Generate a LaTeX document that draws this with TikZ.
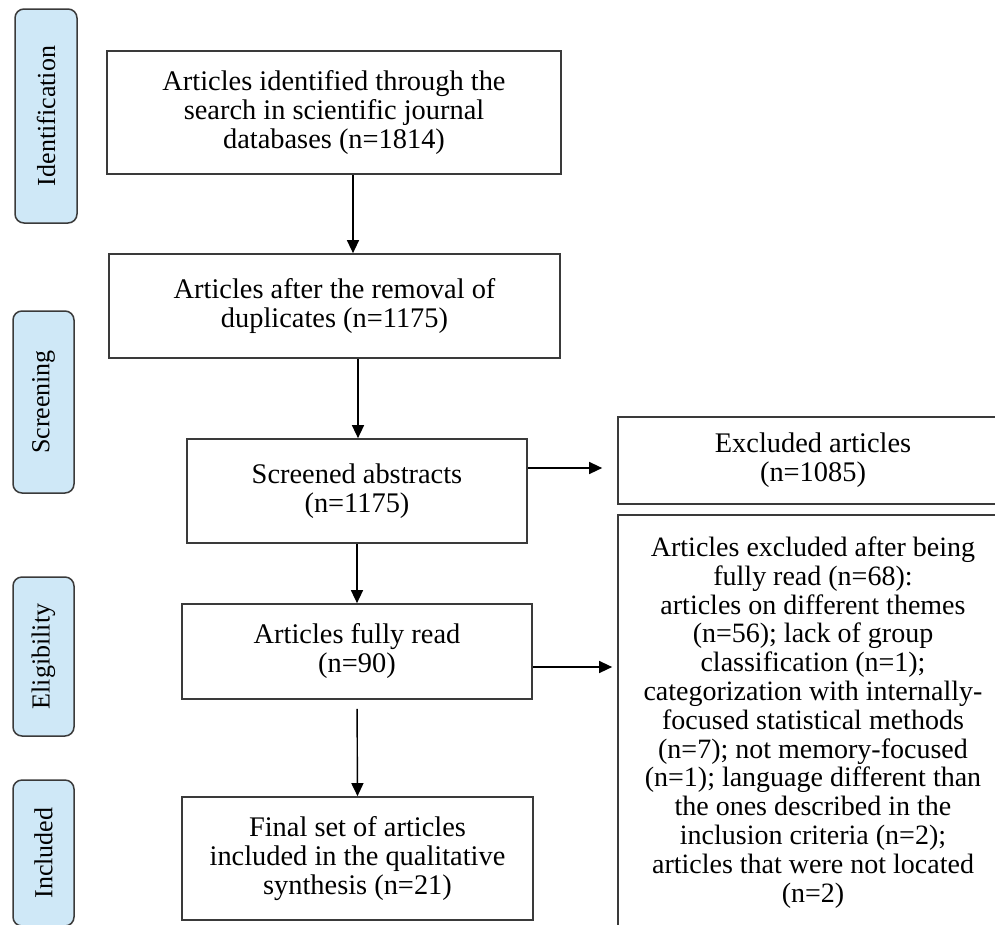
\documentclass[tikz,border=0pt]{standalone}
\usepackage{fontspec}
\setmainfont{Liberation Serif}
\usetikzlibrary{arrows.meta,calc}
\definecolor{sidefill}{HTML}{CFE8F7}
\definecolor{linegray}{HTML}{3A3A3A}
\tikzset{
  box/.style={draw=linegray, line width=1.7pt, rectangle, inner sep=0pt, align=center,
    font=\fontsize{28.4}{29}\selectfont, text=black},
  side/.style={draw=linegray, line width=1.5pt, fill=sidefill, rounded corners=9pt,
    inner sep=0pt, font=\fontsize{26}{27}\selectfont, rotate=90},
  arr/.style={draw=black, line width=1.4pt, -{Triangle[length=13pt,width=12pt]}},
}
\begin{document}
\begin{tikzpicture}[x=1pt,y=-1pt]
\useasboundingbox (0,0) rectangle (995,924);
\clip (0,0) rectangle (995,924);

% side labels
\node[side, minimum width=214pt, minimum height=62pt] (sid) at (46,116) {Identification};
\node[side, minimum width=182pt, minimum height=61pt] (sscr) at (43.5,402) {Screening};
\node[side, minimum width=159pt, minimum height=61pt] (selig) at (43.5,656.5) {Eligibility};
\node[side, minimum width=146pt, minimum height=61pt] (sinc) at (43.5,853) {Included};

% main boxes
\node[box, minimum width=454pt, minimum height=123pt] (b1) at (334,112.5)
  {Articles identified through the\\search in scientific journal\\databases (n=1814)};
\node[box, minimum width=451pt, minimum height=104pt] (b2) at (334.5,306)
  {Articles after the removal of\\duplicates (n=1175)};
\node[box, minimum width=340pt, minimum height=104pt] (b3) at (357,491)
  {Screened abstracts\\(n=1175)};
\node[box, minimum width=350pt, minimum height=95pt] (b4) at (357,651.5)
  {Articles fully read\\(n=90)};
\node[box, minimum width=351pt, minimum height=123pt] (b5) at (357.5,858.5)
  {Final set of articles\\included in the qualitative\\synthesis (n=21)};

% excluded boxes
\node[box, minimum width=390pt, minimum height=87pt] (e1) at (813,460.5)
  {Excluded articles\\(n=1085)};
\node[box, minimum width=390pt, minimum height=415pt, font=\fontsize{28}{28.8}\selectfont] (e2) at (813,722.5)
  {Articles excluded after being\\fully read (n=68):\\articles on different themes\\(n=56); lack of group\\classification (n=1);\\categorization with internally-\\focused statistical methods\\(n=7); not memory-focused\\(n=1); language different than\\the ones described in the\\inclusion criteria (n=2);\\articles that were not located\\(n=2)};

% connectors
\coordinate (a1) at ($(b1.south)+(19,0)$);
\draw[arr] (a1) -- (a1 |- b2.north);
\coordinate (a2) at ($(b2.south)+(23.5,0)$);
\draw[arr] (a2) -- (a2 |- b3.north);
\draw[arr] (b3.south) -- (b4.north);
\draw[arr, shorten <=9pt] (b4.south) -- (b5.north);
\coordinate (a4) at ($(b3.east)+(0,-23)$);
\draw[arr, shorten >=15pt] (a4) -- (a4 -| e1.west);
\coordinate (a5) at ($(b4.east)+(0,15.5)$);
\draw[arr, shorten >=5pt] (a5) -- (a5 -| e2.west);
\end{tikzpicture}
\end{document}
